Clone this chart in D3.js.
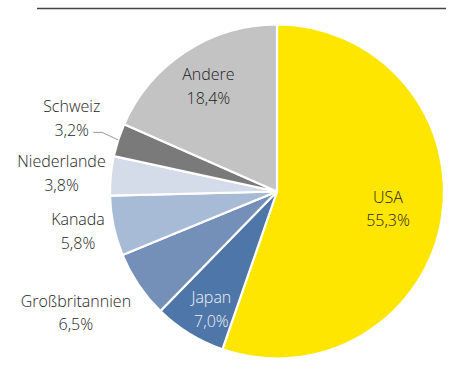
<!DOCTYPE html>
<html>
<head>
<meta charset="utf-8">
<script src="https://cdn.jsdelivr.net/npm/d3@7"></script>
<style>
  html, body { margin: 0; padding: 0; background: #fff; }
  svg { display: block; }
  text { font-family: "Open Sans", Lato, sans-serif; font-weight: 300; }
</style>
</head>
<body>
<svg id="chart" width="454" height="378"></svg>
<script>
// Anteile nach Ländern (in %), im Uhrzeigersinn ab 12 Uhr
const countries = ["USA", "Japan", "Großbritannien", "Kanada", "Niederlande", "Schweiz", "Andere"];
const shares = [55.3, 7.0, 6.5, 5.8, 3.8, 3.2, 18.4];
const sliceColors = ["#ffe600", "#4e76a8", "#7490b9", "#a8bbd6", "#d5dce9", "#7a7a7a", "#c3c3c3"];

// Beschriftungslage je Segment: Radiusfaktor, Winkelversatz (Grad)
const labelLayout = {
  "USA":            { r: 0.673, dAngle: -0.6 },
  "Japan":          { r: 0.806, dAngle: -2.5, light: true },
  "Großbritannien": { r: 1.407, dAngle: 2.9 },
  "Kanada":         { r: 1.215, dAngle: 0.65 },
  "Niederlande":    { r: 1.295, dAngle: -0.6 },
  "Schweiz":        { r: 1.305, dAngle: 1.6, leader: true },
  "Andere":         { r: 0.752, dAngle: 0 }
};

const fmt = v => d3.format(".1f")(v).replace(".", ",") + "%";

const svg = d3.select("#chart");
const cx = 277, cy = 191.5, radius = 167;

// Trennlinie oben
svg.append("line")
  .attr("x1", 37).attr("x2", 446)
  .attr("y1", 8.5).attr("y2", 8.5)
  .attr("stroke", "#444").attr("stroke-width", 1.5);

const data = countries.map((c, i) => ({ name: c, value: shares[i], color: sliceColors[i] }));

const pie = d3.pie().value(d => d.value).sort(null);
const arcs = pie(data);
const arc = d3.arc().innerRadius(0).outerRadius(radius);

const g = svg.append("g").attr("transform", `translate(${cx},${cy})`);

g.selectAll("path.slice")
  .data(arcs)
  .join("path")
  .attr("class", "slice")
  .attr("d", arc)
  .attr("fill", d => d.data.color)
  .attr("stroke", "#fff")
  .attr("stroke-width", 2.2)
  .attr("stroke-linejoin", "round");

function polar(angle, r) {
  return [Math.sin(angle) * r, -Math.cos(angle) * r];
}

arcs.forEach(d => {
  const L = labelLayout[d.data.name];
  const mid = (d.startAngle + d.endAngle) / 2;
  const a = mid + L.dAngle * Math.PI / 180;
  const [x, y] = polar(a, radius * L.r);

  if (L.leader) {
    const [ex, ey] = polar(mid, radius);
    const sx = x + 21.5, sy = y + 14;
    g.append("polyline")
      .attr("points", [[sx, sy], [sx + 9, sy], [ex, ey]].map(p => p.join(",")).join(" "))
      .attr("fill", "none")
      .attr("stroke", "#9a9a9a")
      .attr("stroke-width", 1);
  }

  const t = g.append("text")
    .attr("text-anchor", "middle")
    .attr("font-size", 16)
    .attr("fill", L.light ? "#eef2f8" : "#1e1e1e");
  t.append("tspan").attr("x", x).attr("y", y - 6).text(d.data.name);
  t.append("tspan").attr("x", x).attr("y", y + 17.5).text(fmt(d.data.value));
});
</script>
</body>
</html>
